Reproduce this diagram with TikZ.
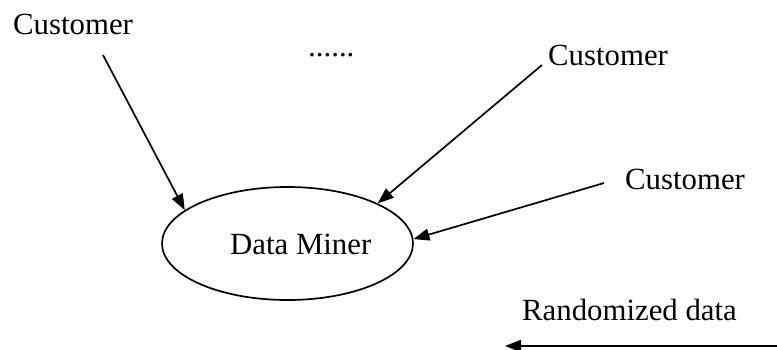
\documentclass[tikz,border=0pt]{standalone}
\usepackage{fontspec}
\setmainfont{Liberation Serif}
\usetikzlibrary{arrows.meta,shapes.geometric}
\begin{document}
\begin{tikzpicture}[x=1pt,y=-1pt,
  lbl/.style={inner sep=0pt,anchor=base west,font=\fontsize{30.8}{36}\selectfont},
  link/.style={line width=1.7pt,-{Triangle[length=16pt,width=12pt]}},
  minerbox/.style={ellipse,draw,line width=1.7pt,minimum width=251pt,minimum height=113pt,inner sep=0pt}]
  \useasboundingbox (0,0) rectangle (777,349);

  % central data miner
  \node[minerbox] (dm) at (287.5,243.5) {};
  \node[lbl] (dmtext) at (230,254) {Data Miner};

  % customers
  \node[lbl] (c1) at (13,34) {Customer};
  \node[lbl] (dots) at (308,56) {......};
  \node[lbl] (c2) at (548,65) {Customer};
  \node[lbl] (c3) at (625,189) {Customer};
  \node[lbl] (rd) at (522,320) {Randomized data};

  % connector start points
  \coordinate (s1) at (103,55);
  \coordinate (s2) at (542,65);
  \coordinate (s3) at (604,183);
  \coordinate (rs) at (777,346);
  \coordinate (re) at (505,346);

  \draw[link] (s1) -- (dm.162);
  \draw[link] (s2) -- (dm.24);
  \draw[link] (s3) -- (dm.2);
  \draw[link] (rs) -- (re);
\end{tikzpicture}
\end{document}
